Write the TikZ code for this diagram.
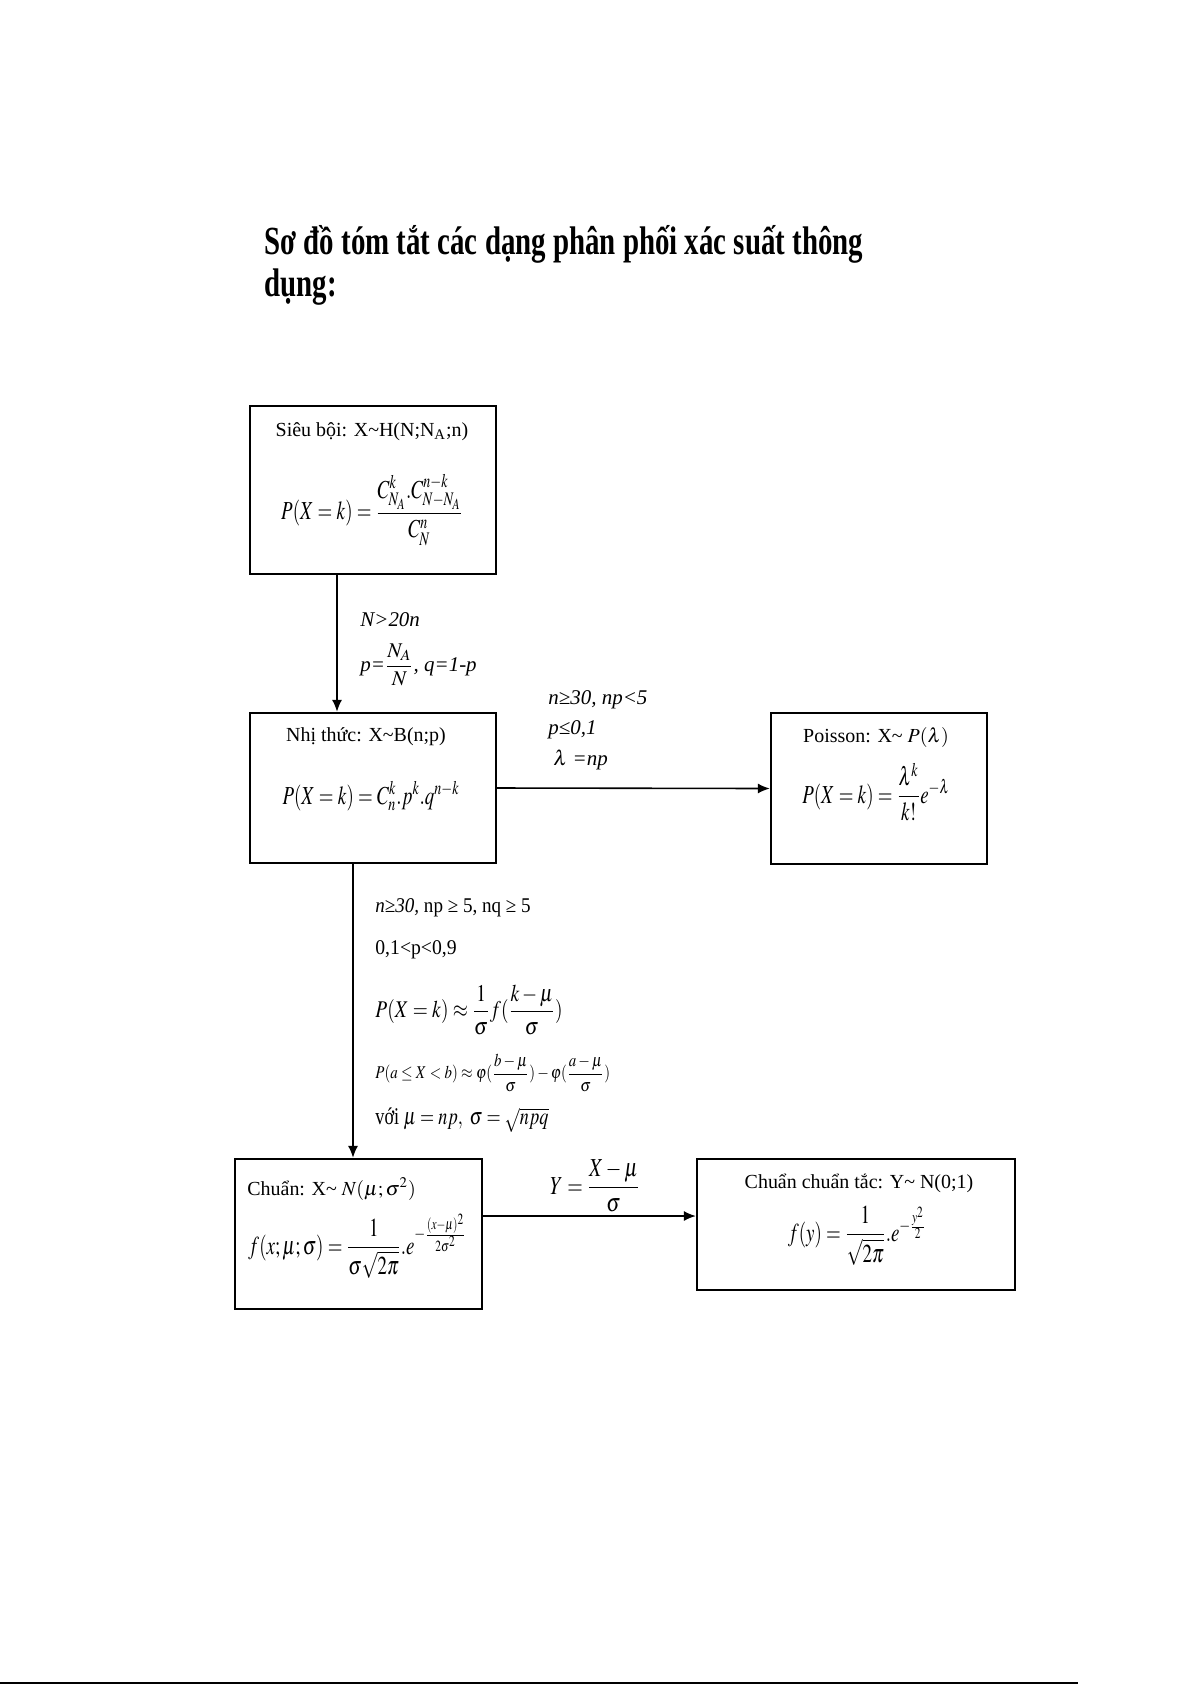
\documentclass[tikz,border=0pt]{standalone}
\usepackage{amsmath}
\usepackage{graphicx}
\usepackage{mathptmx}
\usepackage{fontspec}
\setmainfont{Liberation Serif}
\usetikzlibrary{arrows.meta,calc}

\tikzset{
    box/.style={draw, line width=1.1pt, inner sep=0pt},
    hd/.style={font=\fontsize{10}{12}\selectfont, inner sep=0pt},
    fm/.style={font=\fontsize{13}{15}\selectfont, inner sep=0pt},
    cond/.style={font=\fontsize{10.5}{13}\selectfont, inner sep=0pt, anchor=west},
    arr/.style={-{Latex[length=6pt,width=5pt]}, line width=0.8pt}
}
\newcommand{\tld}{\textasciitilde}
\newcommand{\hep}[2][0.73]{\scalebox{#1}[1]{#2}}

\begin{document}
\begin{tikzpicture}[x=0.5012pt, y=-0.5012pt]
    \useasboundingbox (0,0) rectangle (1192,1685);
    \fill[white] (0,0) rectangle (1192,1685);

    % tieu de
    \node[anchor=base west, inner sep=0pt, font=\fontsize{20}{22}\selectfont\bfseries] (tieude1) at (264,254)
        {\hep[0.724]{Sơ đồ tóm tắt các dạng phân phối xác suất thông}};
    \node[anchor=base west, inner sep=0pt, font=\fontsize{20}{22}\selectfont\bfseries] (tieude2) at (264,296)
        {\hep[0.724]{dụng:}};

    % cac hop
    \node[box, minimum width=123.3pt, minimum height=84.2pt] (sieuboi) at (373,490) {};
    \node[box, minimum width=123.3pt, minimum height=75.2pt] (nhithuc) at (373,788) {};
    \node[box, minimum width=108.3pt, minimum height=75.7pt] (poisson) at (879,788.5) {};
    \node[box, minimum width=123.8pt, minimum height=75.2pt] (chuan) at (358.5,1234) {};
    \node[box, minimum width=159.4pt, minimum height=65.7pt] (chuanct) at (856,1224.5) {};

    % noi dung hop
    \node[hd] (sieuboi-t) at (372,432) {Siêu bội: X\tld H(N;N\textsubscript{A};n)};
    \node[fm] (sieuboi-f) at (372,510) {\hep{$P(X=k)=\dfrac{C^k_{N_A}.C^{n-k}_{N-N_A}}{C^n_N}$}};
    \node[hd] (nhithuc-t) at (366,737) {Nhị thức: X\tld B(n;p)};
    \node[fm] (nhithuc-f) at (371,796) {\hep{$P(X=k)=C^k_n.p^k.q^{n-k}$}};
    \node[hd] (poisson-t) at (876,737) {Poisson: X\tld\ $P(\lambda)$};
    \node[fm] (poisson-f) at (876,792) {\hep{$P(X=k)=\dfrac{\lambda^k}{k!}e^{-\lambda}$}};
    \node[hd, anchor=west] (chuan-t) at (247,1189) {Chuẩn: X\tld\ $N(\mu;\sigma^2)$};
    \node[fm, anchor=west] (chuan-f) at (248,1246) {\hep{$f(x;\mu;\sigma)=\dfrac{1}{\sigma\sqrt{2\pi}}.e^{-\frac{(x-\mu)^2}{2\sigma^2}}$}};
    \node[hd] (chuanct-t) at (859,1183) {Chuẩn chuẩn tắc: Y\tld\ N(0;1)};
    \node[fm] (chuanct-f) at (857,1236) {\hep{$f(y)=\dfrac{1}{\sqrt{2\pi}}.e^{-\frac{y^2}{2}}$}};

    % mui ten
    \coordinate (x1) at (337,0);
    \coordinate (x2) at (353,0);
    \coordinate (y4) at (0,1216);
    \draw[arr] (sieuboi.south -| x1) -- (nhithuc.north -| x1);
    \draw[arr] (nhithuc.east) -- (poisson.west);
    \draw[arr] (nhithuc.south -| x2) -- (chuan.north -| x2);
    \draw[arr] (chuan.east |- y4) -- (chuanct.west |- y4);

    % dieu kien
    \node[cond] (dk1a) at (360,620) {\textit{N>20n}};
    \node[cond] (dk1b) at (360,665) {\textit{p=}$\dfrac{N_A}{N}$\textit{, q=1-p}};
    \node[cond] (dk2a) at (548,700) {\textit{n≥30, np<5}};
    \node[cond] (dk2b) at (548,730) {\textit{p≤0,1}};
    \node[cond] (dk2c) at (553,760) {$\lambda$ \textit{=np}};
    \node[cond] (dk3a) at (375,908) {\hep[0.91]{\textit{n≥30,} np ≥ 5, nq ≥ 5}};
    \node[cond] (dk3b) at (375,950) {\hep[0.94]{0,1<p<0,9}};
    \node[cond, font=\fontsize{12}{14}\selectfont] (dk3c) at (375,1010)
        {\hep[0.81]{$P(X=k)\approx\dfrac{1}{\sigma}f(\dfrac{k-\mu}{\sigma})$}};
    \node[cond, font=\fontsize{9}{11}\selectfont] (dk3d) at (375,1073)
        {\hep[0.83]{$P(a\le X<b)\approx\varphi(\dfrac{b-\mu}{\sigma})-\varphi(\dfrac{a-\mu}{\sigma})$}};
    \node[cond, font=\fontsize{12}{14}\selectfont] (dk3e) at (375,1120)
        {\hep[0.76]{với\ $\mu=np,\ \sigma=\sqrt{npq}$}};
    \node[fm] (dk4) at (595,1186) {\hep[0.77]{$Y=\dfrac{X-\mu}{\sigma}$}};

    % duong ke cuoi trang
    \draw[line width=1pt] (0,1683) -- (1078,1683);
\end{tikzpicture}
\end{document}
